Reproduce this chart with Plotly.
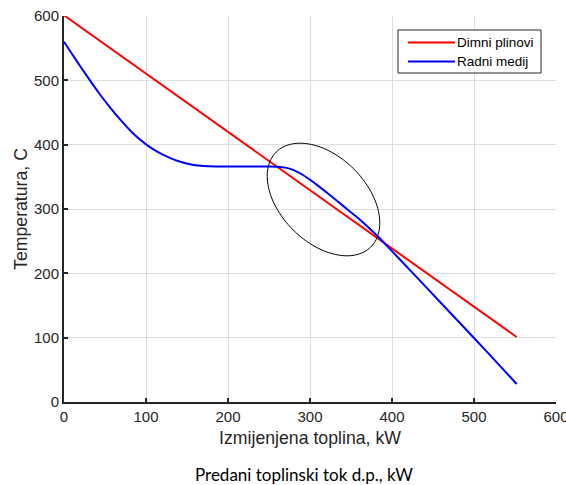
import numpy as np
import plotly.graph_objects as go

# Data
red_x = [0, 552]
red_y = [601, 101]

blue_x = [0, 10, 20, 31, 43, 56, 70, 85, 100, 110, 120, 137, 158, 170, 185, 200, 230, 250, 260,
          270, 280, 290, 300, 310, 320, 335, 345, 360, 372, 385, 400, 426, 460, 500, 530, 552]
blue_y = [560, 540.5, 521.5, 501, 479.5, 458, 437, 416.5, 400.5, 392, 385, 375.5, 368.5, 366.8, 366, 366, 366, 366, 365.6,
          364.3, 360.5, 354, 345.5, 336, 326, 310.5, 300, 284.5, 270.5, 254.5, 234.5, 199.5, 153.5, 99.5, 58.5, 28]

x_ticks = [0, 100, 200, 300, 400, 500, 600]
y_ticks = [0, 100, 200, 300, 400, 500, 600]

series_names = ["Dimni plinovi", "Radni medij"]
series_colors = ["#ff0000", "#0000ff"]

W, H = 566, 485
ML, MR, MT, MB = 64, 10, 16, 83
pw = W - ML - MR
ph = H - MT - MB
sx = pw / 600.0  # px per unit
sy = ph / 600.0


def px2paper_x(p):
    return (p - ML) / pw


def px2paper_y(p):
    return (H - MB - p) / ph


fig = go.Figure()
fig.add_trace(go.Scatter(x=red_x, y=red_y, mode="lines", name=series_names[0],
                         line=dict(color=series_colors[0], width=2)))
fig.add_trace(go.Scatter(x=blue_x, y=blue_y, mode="lines", name=series_names[1],
                         line=dict(color=series_colors[1], width=2, shape="spline", smoothing=0.6)))

# ellipse annotation (rotated, in pixel space then converted to data)
cx_px, cy_px = 323.5, 199.5
a, b = 67.0, 43.0
th = np.deg2rad(45)
t = np.linspace(0, 2 * np.pi, 121)
px = cx_px + a * np.cos(t) * np.cos(th) - b * np.sin(t) * np.sin(th)
py = cy_px + a * np.cos(t) * np.sin(th) + b * np.sin(t) * np.cos(th)
ex = (px - ML) / sx
ey = (H - MB - py) / sy
path = "M " + " L ".join(f"{x:.2f},{y:.2f}" for x, y in zip(ex, ey)) + " Z"
fig.add_shape(type="path", path=path, xref="x", yref="y",
              line=dict(color="black", width=1), layer="above")

# legend box drawn MATLAB-style
fig.add_shape(type="rect", xref="paper", yref="paper",
              x0=px2paper_x(398), x1=px2paper_x(541), y0=px2paper_y(73), y1=px2paper_y(30),
              line=dict(color="#262626", width=1), fillcolor="white", layer="above")
for i, (nm, col) in enumerate(zip(series_names, series_colors)):
    yy = 42.5 + 19 * i
    fig.add_shape(type="line", xref="paper", yref="paper",
                  x0=px2paper_x(408), x1=px2paper_x(455), y0=px2paper_y(yy), y1=px2paper_y(yy),
                  line=dict(color=col, width=2), layer="above")
    fig.add_annotation(text=nm, xref="paper", yref="paper", x=px2paper_x(456), y=px2paper_y(yy),
                       xanchor="left", yanchor="middle", showarrow=False, borderpad=0,
                       font=dict(family="Liberation Sans, Arial", size=13.5, color="black"))

axis_common = dict(
    showgrid=True, gridcolor="#dedede", gridwidth=1,
    showline=True, linecolor="#262626", linewidth=2,
    ticks="inside", ticklen=4, tickcolor="#262626", tickwidth=1.5,
    zeroline=False, mirror=False, automargin=False,
    ticklabeloverflow="allow",
    tickfont=dict(family="Liberation Sans, Arial", size=15, color="#262626"),
)

title_font = dict(family="Liberation Sans, Arial", size=17.7, color="#262626")
fig.update_xaxes(range=[0, 600], tickvals=x_ticks, **axis_common,
                 title=dict(text="Izmijenjena toplina, kW", standoff=8, font=title_font))
fig.update_yaxes(range=[0, 600], tickvals=y_ticks, **axis_common,
                 title=dict(text="Temperatura, C", standoff=2, font=title_font))

fig.add_annotation(text="Predani toplinski tok d.p., kW", xref="paper", yref="paper",
                   x=px2paper_x(304), y=px2paper_y(474), showarrow=False,
                   xanchor="center", yanchor="middle", borderpad=0,
                   font=dict(family="Lato", size=17, color="black"))

fig.update_layout(
    width=W, height=H,
    margin=dict(l=ML, r=MR, t=MT, b=MB, autoexpand=False),
    paper_bgcolor="white", plot_bgcolor="white",
    showlegend=False,
)

fig.write_html("out.html", config={"displayModeBar": False},
               post_script="document.body.style.margin='0';document.body.style.padding='0';")
